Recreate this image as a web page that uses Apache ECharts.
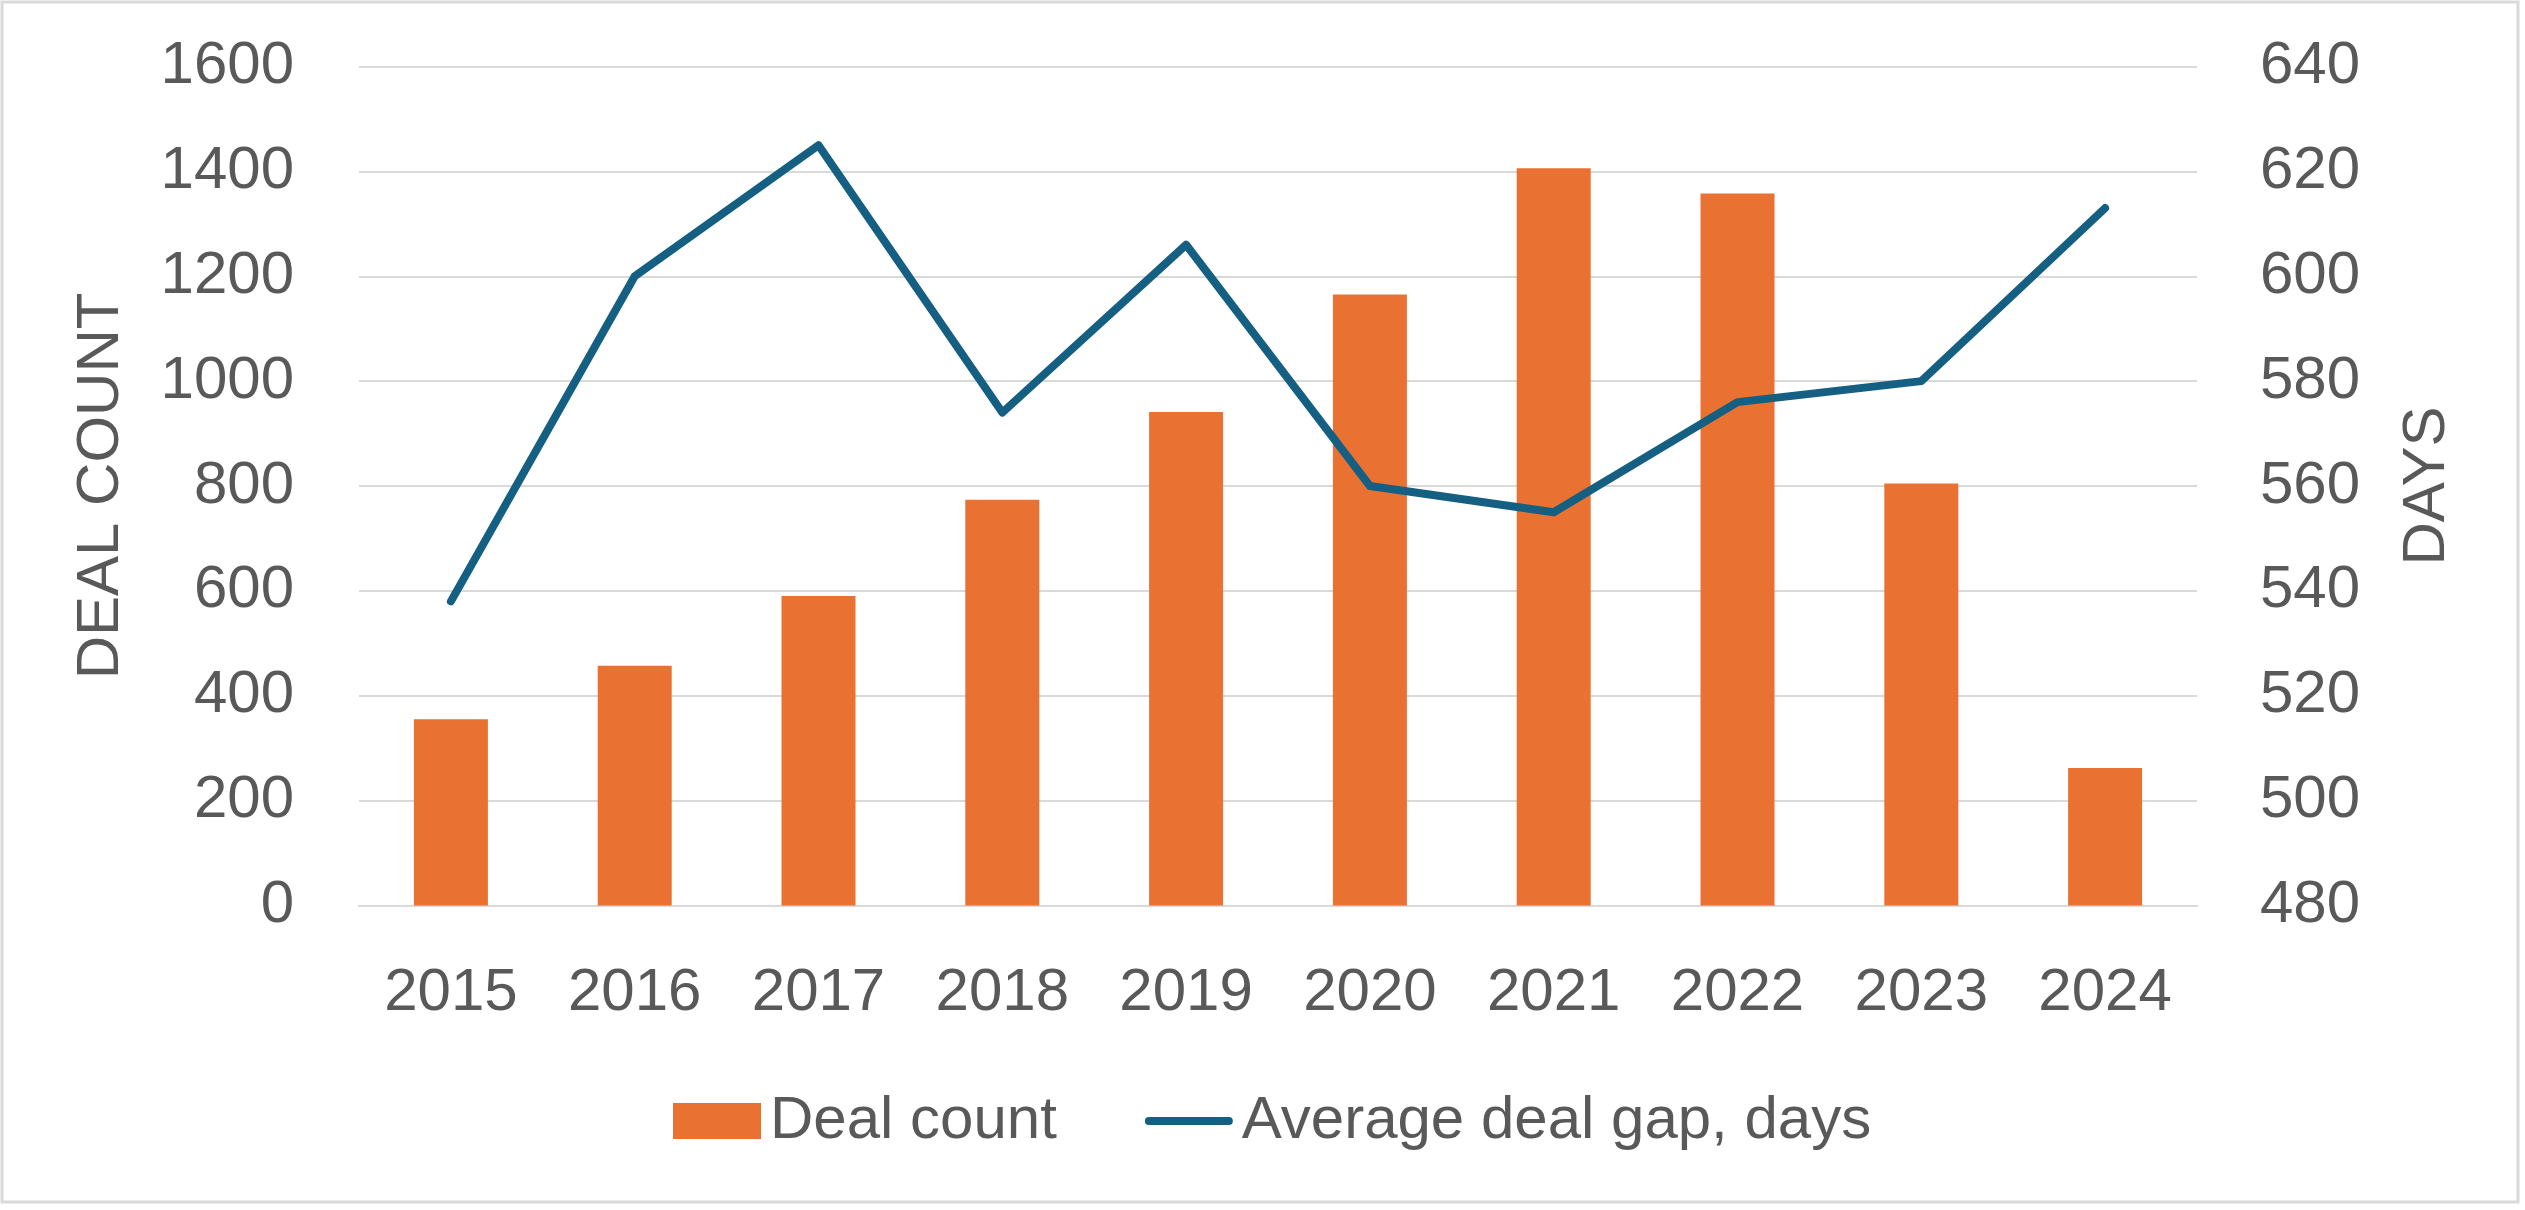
<!DOCTYPE html>
<html>
<head>
<meta charset="utf-8">
<script src="https://cdn.jsdelivr.net/npm/echarts@6/dist/echarts.min.js"></script>
<style>
html,body{margin:0;padding:0;background:#fff;}
#chart{width:2525px;height:1210px;}
</style>
</head>
<body>
<div id="chart"></div>
<script>
const years = ['2015','2016','2017','2018','2019','2020','2021','2022','2023','2024'];
const dealCount = [355, 457, 590, 774, 941, 1165, 1406, 1358, 805, 262];
const avgGapDays = [538, 600, 625, 574, 606, 560, 555, 576, 580, 613];
const leftTicks = {min: 0, max: 1600, interval: 200};
const rightTicks = {min: 480, max: 640, interval: 20};

const textColor = '#595959';
const gridColor = '#d9d9d9';
const font = "'Liberation Sans', Arial, sans-serif";

const chart = echarts.init(document.getElementById('chart'), null, {renderer: 'canvas'});
chart.setOption({
  backgroundColor: '#ffffff',
  animation: false,
  textStyle: {fontFamily: font},
  graphic: [{
    type: 'rect',
    shape: {x: 2, y: 2, width: 2516, height: 1200},
    style: {fill: 'none', stroke: gridColor, lineWidth: 3},
    silent: true
  }],
  grid: {left: 359, right: 328, top: 66.5, bottom: 304.5, containLabel: false},
  legend: {
    left: 668,
    top: 1086,
    itemGap: 88,
    itemWidth: 88,
    itemHeight: 36,
    textStyle: {fontSize: 60, color: textColor, fontFamily: font, padding: [0, 0, 0, 4]},
    data: [
      {name: 'Deal count', icon: 'rect'},
      {name: 'Average deal gap, days',
       icon: 'path://M4,0 H84 A4,4 0 0 1 84,8 H4 A4,4 0 0 1 4,0 Z',
       itemStyle: {color: '#156082', borderWidth: 0}}
    ]
  },
  xAxis: {
    type: 'category',
    data: years,
    axisLine: {show: true, lineStyle: {color: gridColor, width: 2}},
    axisTick: {show: false},
    axisLabel: {fontSize: 60, color: textColor, margin: 58, fontFamily: font}
  },
  yAxis: [{
    type: 'value',
    min: leftTicks.min, max: leftTicks.max, interval: leftTicks.interval,
    name: 'DEAL COUNT',
    nameLocation: 'middle',
    nameGap: 228,
    nameTextStyle: {fontSize: 60, color: textColor, fontFamily: font},
    axisLine: {show: false},
    axisTick: {show: false},
    axisLabel: {fontSize: 60, color: textColor, margin: 65, fontFamily: font,
                formatter: function (v) { return String(v); }},
    splitLine: {show: true, lineStyle: {color: gridColor, width: 2}}
  }, {
    type: 'value',
    min: rightTicks.min, max: rightTicks.max, interval: rightTicks.interval,
    name: 'DAYS',
    nameLocation: 'middle',
    nameGap: 200,
    nameTextStyle: {fontSize: 60, color: textColor, fontFamily: font},
    axisLine: {show: false},
    axisTick: {show: false},
    axisLabel: {fontSize: 60, color: textColor, margin: 63, fontFamily: font,
                formatter: function (v) { return String(v); }},
    splitLine: {show: false}
  }],
  series: [{
    name: 'Deal count',
    type: 'bar',
    yAxisIndex: 0,
    data: dealCount,
    barWidth: 74,
    itemStyle: {color: '#E97132'},
    z: 2
  }, {
    name: 'Average deal gap, days',
    type: 'line',
    yAxisIndex: 1,
    data: avgGapDays,
    symbol: 'none',
    lineStyle: {color: '#156082', width: 8, cap: 'round', join: 'round'},
    itemStyle: {color: '#156082'},
    z: 3
  }]
});
</script>
</body>
</html>
